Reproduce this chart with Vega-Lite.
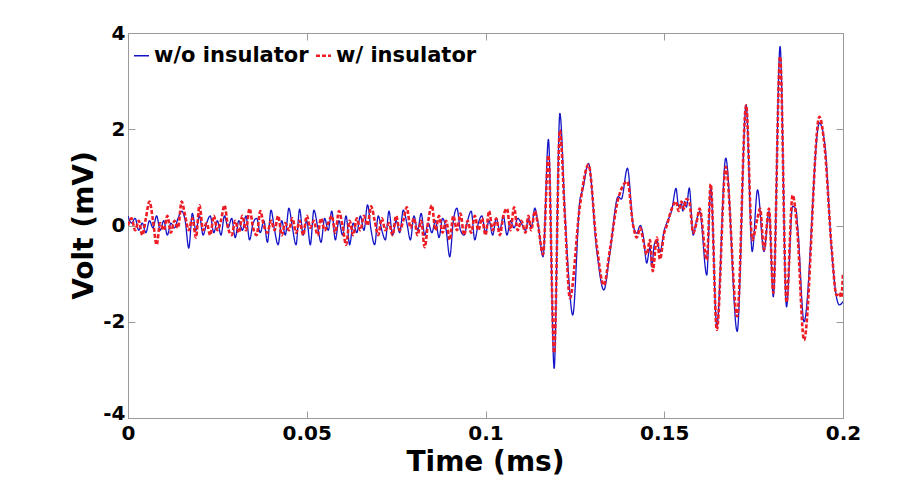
{
  "$schema": "https://vega.github.io/schema/vega-lite/v6.json",
  "autosize": "none",
  "width": 715,
  "height": 385,
  "padding": {"left": 128, "top": 33, "right": 71, "bottom": 67},
  "background": "white",
  "config": {
    "view": {"stroke": "#9a9a9a", "strokeWidth": 1},
    "axis": {
      "grid": false,
      "domainColor": "#9a9a9a",
      "tickColor": "#9a9a9a",
      "labelFont": "DejaVu Sans",
      "labelFontWeight": "bold",
      "labelFontSize": 20,
      "labelColor": "black",
      "titleFont": "DejaVu Sans",
      "titleFontWeight": "bold",
      "titleFontSize": 28,
      "titleColor": "black"
    }
  },
  "datasets": {
    "sig": [
      {"t":0.000,"v":0.2,"s":"w/o insulator"},{"t":0.001,"v":0.05,"s":"w/o insulator"},{"t":0.002,"v":0.15,"s":"w/o insulator"},{"t":0.003,"v":-0.1,"s":"w/o insulator"},{"t":0.004,"v":0.05,"s":"w/o insulator"},{"t":0.005,"v":-0.15,"s":"w/o insulator"},{"t":0.006,"v":0.1,"s":"w/o insulator"},{"t":0.007,"v":-0.05,"s":"w/o insulator"},{"t":0.008,"v":0.2,"s":"w/o insulator"},{"t":0.009,"v":-0.1,"s":"w/o insulator"},
      {"t":0.010,"v":0.1,"s":"w/o insulator"},{"t":0.011,"v":-0.2,"s":"w/o insulator"},{"t":0.012,"v":0.05,"s":"w/o insulator"},{"t":0.013,"v":-0.05,"s":"w/o insulator"},{"t":0.014,"v":0.15,"s":"w/o insulator"},{"t":0.015,"v":0.3,"s":"w/o insulator"},{"t":0.016,"v":0.1,"s":"w/o insulator"},{"t":0.017,"v":-0.47,"s":"w/o insulator"},{"t":0.018,"v":0.25,"s":"w/o insulator"},{"t":0.019,"v":-0.1,"s":"w/o insulator"},
      {"t":0.020,"v":0.2,"s":"w/o insulator"},{"t":0.021,"v":-0.2,"s":"w/o insulator"},{"t":0.022,"v":0.05,"s":"w/o insulator"},{"t":0.023,"v":0.2,"s":"w/o insulator"},{"t":0.024,"v":-0.15,"s":"w/o insulator"},{"t":0.025,"v":0.1,"s":"w/o insulator"},{"t":0.026,"v":-0.2,"s":"w/o insulator"},{"t":0.027,"v":0.2,"s":"w/o insulator"},{"t":0.028,"v":-0.05,"s":"w/o insulator"},{"t":0.029,"v":0.15,"s":"w/o insulator"},
      {"t":0.030,"v":-0.25,"s":"w/o insulator"},{"t":0.031,"v":0.1,"s":"w/o insulator"},{"t":0.032,"v":-0.1,"s":"w/o insulator"},{"t":0.033,"v":0.2,"s":"w/o insulator"},{"t":0.034,"v":-0.3,"s":"w/o insulator"},{"t":0.035,"v":0.05,"s":"w/o insulator"},{"t":0.036,"v":0.15,"s":"w/o insulator"},{"t":0.037,"v":-0.15,"s":"w/o insulator"},{"t":0.038,"v":0.1,"s":"w/o insulator"},{"t":0.039,"v":-0.35,"s":"w/o insulator"},
      {"t":0.040,"v":0.32,"s":"w/o insulator"},{"t":0.041,"v":-0.1,"s":"w/o insulator"},{"t":0.042,"v":-0.4,"s":"w/o insulator"},{"t":0.043,"v":0.1,"s":"w/o insulator"},{"t":0.044,"v":-0.2,"s":"w/o insulator"},{"t":0.045,"v":0.36,"s":"w/o insulator"},{"t":0.046,"v":-0.05,"s":"w/o insulator"},{"t":0.047,"v":-0.4,"s":"w/o insulator"},{"t":0.048,"v":0.34,"s":"w/o insulator"},{"t":0.049,"v":-0.2,"s":"w/o insulator"},
      {"t":0.050,"v":0.1,"s":"w/o insulator"},{"t":0.051,"v":-0.4,"s":"w/o insulator"},{"t":0.052,"v":0.32,"s":"w/o insulator"},{"t":0.053,"v":0.0,"s":"w/o insulator"},{"t":0.054,"v":-0.35,"s":"w/o insulator"},{"t":0.055,"v":0.15,"s":"w/o insulator"},{"t":0.056,"v":-0.1,"s":"w/o insulator"},{"t":0.057,"v":0.3,"s":"w/o insulator"},{"t":0.058,"v":-0.3,"s":"w/o insulator"},{"t":0.059,"v":0.1,"s":"w/o insulator"},
      {"t":0.060,"v":-0.2,"s":"w/o insulator"},{"t":0.061,"v":0.2,"s":"w/o insulator"},{"t":0.062,"v":-0.4,"s":"w/o insulator"},{"t":0.063,"v":0.05,"s":"w/o insulator"},{"t":0.064,"v":-0.15,"s":"w/o insulator"},{"t":0.065,"v":0.2,"s":"w/o insulator"},{"t":0.066,"v":-0.1,"s":"w/o insulator"},{"t":0.067,"v":0.43,"s":"w/o insulator"},{"t":0.068,"v":-0.1,"s":"w/o insulator"},{"t":0.069,"v":-0.4,"s":"w/o insulator"},
      {"t":0.070,"v":0.2,"s":"w/o insulator"},{"t":0.071,"v":-0.1,"s":"w/o insulator"},{"t":0.072,"v":-0.3,"s":"w/o insulator"},{"t":0.073,"v":0.3,"s":"w/o insulator"},{"t":0.074,"v":-0.2,"s":"w/o insulator"},{"t":0.075,"v":0.1,"s":"w/o insulator"},{"t":0.076,"v":-0.15,"s":"w/o insulator"},{"t":0.077,"v":0.32,"s":"w/o insulator"},{"t":0.078,"v":0.05,"s":"w/o insulator"},{"t":0.079,"v":-0.3,"s":"w/o insulator"},
      {"t":0.080,"v":0.2,"s":"w/o insulator"},{"t":0.081,"v":-0.1,"s":"w/o insulator"},{"t":0.082,"v":0.25,"s":"w/o insulator"},{"t":0.083,"v":-0.2,"s":"w/o insulator"},{"t":0.084,"v":0.05,"s":"w/o insulator"},{"t":0.085,"v":-0.15,"s":"w/o insulator"},{"t":0.086,"v":0.1,"s":"w/o insulator"},{"t":0.087,"v":-0.25,"s":"w/o insulator"},{"t":0.088,"v":0.15,"s":"w/o insulator"},{"t":0.089,"v":-0.1,"s":"w/o insulator"},
      {"t":0.090,"v":-0.65,"s":"w/o insulator"},{"t":0.091,"v":0.1,"s":"w/o insulator"},{"t":0.092,"v":0.36,"s":"w/o insulator"},{"t":0.093,"v":-0.1,"s":"w/o insulator"},{"t":0.094,"v":-0.2,"s":"w/o insulator"},{"t":0.095,"v":0.1,"s":"w/o insulator"},{"t":0.096,"v":0.3,"s":"w/o insulator"},{"t":0.097,"v":-0.3,"s":"w/o insulator"},{"t":0.098,"v":0.05,"s":"w/o insulator"},{"t":0.099,"v":0.2,"s":"w/o insulator"},
      {"t":0.100,"v":-0.15,"s":"w/o insulator"},{"t":0.101,"v":0.1,"s":"w/o insulator"},{"t":0.102,"v":-0.2,"s":"w/o insulator"},{"t":0.103,"v":0.15,"s":"w/o insulator"},{"t":0.104,"v":-0.1,"s":"w/o insulator"},{"t":0.105,"v":0.2,"s":"w/o insulator"},{"t":0.106,"v":-0.2,"s":"w/o insulator"},{"t":0.107,"v":0.1,"s":"w/o insulator"},{"t":0.108,"v":-0.05,"s":"w/o insulator"},{"t":0.109,"v":0.15,"s":"w/o insulator"},
      {"t":0.1100,"v":0.05,"s":"w/o insulator"},{"t":0.1112,"v":-0.1,"s":"w/o insulator"},{"t":0.1120,"v":0.15,"s":"w/o insulator"},{"t":0.1128,"v":-0.05,"s":"w/o insulator"},{"t":0.1138,"v":0.36,"s":"w/o insulator"},{"t":0.1146,"v":0.1,"s":"w/o insulator"},{"t":0.1161,"v":-0.65,"s":"w/o insulator"},{"t":0.1176,"v":1.79,"s":"w/o insulator"},{"t":0.1192,"v":-2.97,"s":"w/o insulator"},{"t":0.1208,"v":2.33,"s":"w/o insulator"},
      {"t":0.1222,"v":0.3,"s":"w/o insulator"},{"t":0.1232,"v":-0.99,"s":"w/o insulator"},{"t":0.1244,"v":-1.86,"s":"w/o insulator"},{"t":0.1264,"v":0.53,"s":"w/o insulator"},{"t":0.1272,"v":0.75,"s":"w/o insulator"},{"t":0.1288,"v":1.29,"s":"w/o insulator"},{"t":0.1311,"v":-0.51,"s":"w/o insulator"},{"t":0.1331,"v":-1.34,"s":"w/o insulator"},{"t":0.1348,"v":-0.57,"s":"w/o insulator"},{"t":0.1371,"v":0.6,"s":"w/o insulator"},
      {"t":0.1380,"v":0.55,"s":"w/o insulator"},{"t":0.1397,"v":1.19,"s":"w/o insulator"},{"t":0.1413,"v":0.01,"s":"w/o insulator"},{"t":0.1423,"v":-0.16,"s":"w/o insulator"},{"t":0.1433,"v":0.0,"s":"w/o insulator"},{"t":0.1441,"v":-0.2,"s":"w/o insulator"},{"t":0.1451,"v":-0.78,"s":"w/o insulator"},{"t":0.1460,"v":-0.45,"s":"w/o insulator"},{"t":0.1465,"v":-0.86,"s":"w/o insulator"},{"t":0.1472,"v":-0.4,"s":"w/o insulator"},
      {"t":0.1479,"v":-0.3,"s":"w/o insulator"},{"t":0.1488,"v":-0.55,"s":"w/o insulator"},{"t":0.1500,"v":-0.1,"s":"w/o insulator"},{"t":0.1507,"v":0.05,"s":"w/o insulator"},{"t":0.1521,"v":0.32,"s":"w/o insulator"},{"t":0.1533,"v":0.77,"s":"w/o insulator"},{"t":0.1540,"v":0.4,"s":"w/o insulator"},{"t":0.1548,"v":0.45,"s":"w/o insulator"},{"t":0.1552,"v":0.3,"s":"w/o insulator"},{"t":0.1557,"v":0.5,"s":"w/o insulator"},
      {"t":0.1562,"v":0.38,"s":"w/o insulator"},{"t":0.1570,"v":0.78,"s":"w/o insulator"},{"t":0.1581,"v":-0.2,"s":"w/o insulator"},{"t":0.1590,"v":0.1,"s":"w/o insulator"},{"t":0.1599,"v":0.29,"s":"w/o insulator"},{"t":0.1619,"v":-1.03,"s":"w/o insulator"},{"t":0.1630,"v":0.8,"s":"w/o insulator"},{"t":0.1647,"v":-2.1,"s":"w/o insulator"},{"t":0.1672,"v":1.4,"s":"w/o insulator"},{"t":0.1704,"v":-2.2,"s":"w/o insulator"},
      {"t":0.1729,"v":2.5,"s":"w/o insulator"},{"t":0.1746,"v":-0.54,"s":"w/o insulator"},{"t":0.1761,"v":0.74,"s":"w/o insulator"},{"t":0.1779,"v":-0.54,"s":"w/o insulator"},{"t":0.1793,"v":0.29,"s":"w/o insulator"},{"t":0.1805,"v":-1.48,"s":"w/o insulator"},{"t":0.1824,"v":3.72,"s":"w/o insulator"},{"t":0.1842,"v":-1.69,"s":"w/o insulator"},{"t":0.1859,"v":0.4,"s":"w/o insulator"},{"t":0.1868,"v":0.35,"s":"w/o insulator"},
      {"t":0.1874,"v":-0.1,"s":"w/o insulator"},{"t":0.1891,"v":-2.0,"s":"w/o insulator"},{"t":0.1934,"v":2.13,"s":"w/o insulator"},{"t":0.1949,"v":1.7,"s":"w/o insulator"},{"t":0.1968,"v":-0.5,"s":"w/o insulator"},{"t":0.1982,"v":-1.5,"s":"w/o insulator"},{"t":0.1990,"v":-1.65,"s":"w/o insulator"},{"t":0.2000,"v":-1.58,"s":"w/o insulator"},

      {"t":0.000,"v":0.0,"s":"w/ insulator"},{"t":0.001,"v":0.15,"s":"w/ insulator"},{"t":0.002,"v":-0.1,"s":"w/ insulator"},{"t":0.003,"v":0.1,"s":"w/ insulator"},{"t":0.004,"v":-0.2,"s":"w/ insulator"},{"t":0.005,"v":0.15,"s":"w/ insulator"},{"t":0.006,"v":0.5,"s":"w/ insulator"},{"t":0.007,"v":0.1,"s":"w/ insulator"},{"t":0.008,"v":-0.4,"s":"w/ insulator"},{"t":0.009,"v":0.05,"s":"w/ insulator"},
      {"t":0.010,"v":-0.1,"s":"w/ insulator"},{"t":0.011,"v":0.2,"s":"w/ insulator"},{"t":0.012,"v":-0.15,"s":"w/ insulator"},{"t":0.013,"v":0.1,"s":"w/ insulator"},{"t":0.014,"v":-0.05,"s":"w/ insulator"},{"t":0.015,"v":0.5,"s":"w/ insulator"},{"t":0.016,"v":0.2,"s":"w/ insulator"},{"t":0.017,"v":-0.1,"s":"w/ insulator"},{"t":0.018,"v":0.15,"s":"w/ insulator"},{"t":0.019,"v":-0.25,"s":"w/ insulator"},
      {"t":0.020,"v":0.42,"s":"w/ insulator"},{"t":0.021,"v":-0.1,"s":"w/ insulator"},{"t":0.022,"v":0.05,"s":"w/ insulator"},{"t":0.023,"v":-0.2,"s":"w/ insulator"},{"t":0.024,"v":0.2,"s":"w/ insulator"},{"t":0.025,"v":-0.1,"s":"w/ insulator"},{"t":0.026,"v":0.1,"s":"w/ insulator"},{"t":0.027,"v":0.42,"s":"w/ insulator"},{"t":0.028,"v":-0.05,"s":"w/ insulator"},{"t":0.029,"v":-0.2,"s":"w/ insulator"},
      {"t":0.030,"v":0.1,"s":"w/ insulator"},{"t":0.031,"v":-0.15,"s":"w/ insulator"},{"t":0.032,"v":0.2,"s":"w/ insulator"},{"t":0.033,"v":-0.1,"s":"w/ insulator"},{"t":0.034,"v":0.35,"s":"w/ insulator"},{"t":0.035,"v":-0.05,"s":"w/ insulator"},{"t":0.036,"v":-0.2,"s":"w/ insulator"},{"t":0.037,"v":0.3,"s":"w/ insulator"},{"t":0.038,"v":0.0,"s":"w/ insulator"},{"t":0.039,"v":-0.15,"s":"w/ insulator"},
      {"t":0.040,"v":0.1,"s":"w/ insulator"},{"t":0.041,"v":-0.1,"s":"w/ insulator"},{"t":0.042,"v":0.2,"s":"w/ insulator"},{"t":0.043,"v":-0.2,"s":"w/ insulator"},{"t":0.044,"v":0.05,"s":"w/ insulator"},{"t":0.045,"v":-0.1,"s":"w/ insulator"},{"t":0.046,"v":0.15,"s":"w/ insulator"},{"t":0.047,"v":-0.15,"s":"w/ insulator"},{"t":0.048,"v":0.1,"s":"w/ insulator"},{"t":0.049,"v":-0.2,"s":"w/ insulator"},
      {"t":0.050,"v":0.2,"s":"w/ insulator"},{"t":0.051,"v":-0.05,"s":"w/ insulator"},{"t":0.052,"v":0.1,"s":"w/ insulator"},{"t":0.053,"v":-0.2,"s":"w/ insulator"},{"t":0.054,"v":0.15,"s":"w/ insulator"},{"t":0.055,"v":-0.1,"s":"w/ insulator"},{"t":0.056,"v":0.05,"s":"w/ insulator"},{"t":0.057,"v":0.2,"s":"w/ insulator"},{"t":0.058,"v":-0.15,"s":"w/ insulator"},{"t":0.059,"v":0.3,"s":"w/ insulator"},
      {"t":0.060,"v":0.0,"s":"w/ insulator"},{"t":0.061,"v":-0.4,"s":"w/ insulator"},{"t":0.062,"v":0.1,"s":"w/ insulator"},{"t":0.063,"v":-0.2,"s":"w/ insulator"},{"t":0.064,"v":0.15,"s":"w/ insulator"},{"t":0.065,"v":-0.1,"s":"w/ insulator"},{"t":0.066,"v":0.2,"s":"w/ insulator"},{"t":0.067,"v":0.0,"s":"w/ insulator"},{"t":0.068,"v":0.4,"s":"w/ insulator"},{"t":0.069,"v":0.1,"s":"w/ insulator"},
      {"t":0.070,"v":-0.2,"s":"w/ insulator"},{"t":0.071,"v":0.15,"s":"w/ insulator"},{"t":0.072,"v":-0.1,"s":"w/ insulator"},{"t":0.073,"v":0.05,"s":"w/ insulator"},{"t":0.074,"v":-0.2,"s":"w/ insulator"},{"t":0.075,"v":0.2,"s":"w/ insulator"},{"t":0.076,"v":-0.1,"s":"w/ insulator"},{"t":0.077,"v":0.1,"s":"w/ insulator"},{"t":0.078,"v":0.38,"s":"w/ insulator"},{"t":0.079,"v":-0.05,"s":"w/ insulator"},
      {"t":0.080,"v":0.15,"s":"w/ insulator"},{"t":0.081,"v":-0.2,"s":"w/ insulator"},{"t":0.082,"v":0.1,"s":"w/ insulator"},{"t":0.083,"v":-0.45,"s":"w/ insulator"},{"t":0.084,"v":0.1,"s":"w/ insulator"},{"t":0.085,"v":0.42,"s":"w/ insulator"},{"t":0.086,"v":-0.1,"s":"w/ insulator"},{"t":0.087,"v":0.2,"s":"w/ insulator"},{"t":0.088,"v":-0.15,"s":"w/ insulator"},{"t":0.089,"v":0.1,"s":"w/ insulator"},
      {"t":0.090,"v":-0.3,"s":"w/ insulator"},{"t":0.091,"v":0.2,"s":"w/ insulator"},{"t":0.092,"v":-0.1,"s":"w/ insulator"},{"t":0.093,"v":0.25,"s":"w/ insulator"},{"t":0.094,"v":-0.2,"s":"w/ insulator"},{"t":0.095,"v":0.1,"s":"w/ insulator"},{"t":0.096,"v":-0.15,"s":"w/ insulator"},{"t":0.097,"v":0.2,"s":"w/ insulator"},{"t":0.098,"v":-0.1,"s":"w/ insulator"},{"t":0.099,"v":0.15,"s":"w/ insulator"},
      {"t":0.100,"v":-0.2,"s":"w/ insulator"},{"t":0.101,"v":0.3,"s":"w/ insulator"},{"t":0.102,"v":-0.1,"s":"w/ insulator"},{"t":0.103,"v":0.15,"s":"w/ insulator"},{"t":0.104,"v":-0.2,"s":"w/ insulator"},{"t":0.105,"v":0.2,"s":"w/ insulator"},{"t":0.106,"v":0.35,"s":"w/ insulator"},{"t":0.107,"v":-0.1,"s":"w/ insulator"},{"t":0.108,"v":0.38,"s":"w/ insulator"},{"t":0.109,"v":-0.1,"s":"w/ insulator"},
      {"t":0.1100,"v":0.1,"s":"w/ insulator"},{"t":0.1112,"v":-0.15,"s":"w/ insulator"},{"t":0.1120,"v":0.2,"s":"w/ insulator"},{"t":0.1128,"v":-0.1,"s":"w/ insulator"},{"t":0.1138,"v":0.3,"s":"w/ insulator"},{"t":0.1146,"v":0.05,"s":"w/ insulator"},{"t":0.1161,"v":-0.6,"s":"w/ insulator"},{"t":0.1176,"v":1.46,"s":"w/ insulator"},{"t":0.1192,"v":-2.65,"s":"w/ insulator"},{"t":0.1208,"v":1.98,"s":"w/ insulator"},
      {"t":0.1222,"v":0.2,"s":"w/ insulator"},{"t":0.1236,"v":-1.51,"s":"w/ insulator"},{"t":0.1264,"v":0.4,"s":"w/ insulator"},{"t":0.1288,"v":1.26,"s":"w/ insulator"},{"t":0.1311,"v":-0.4,"s":"w/ insulator"},{"t":0.1331,"v":-1.24,"s":"w/ insulator"},{"t":0.1348,"v":-0.5,"s":"w/ insulator"},{"t":0.1371,"v":0.55,"s":"w/ insulator"},{"t":0.1397,"v":0.91,"s":"w/ insulator"},{"t":0.1413,"v":0.0,"s":"w/ insulator"},
      {"t":0.1423,"v":-0.25,"s":"w/ insulator"},{"t":0.1433,"v":-0.05,"s":"w/ insulator"},{"t":0.1441,"v":-0.3,"s":"w/ insulator"},{"t":0.1451,"v":-0.6,"s":"w/ insulator"},{"t":0.1460,"v":-0.3,"s":"w/ insulator"},{"t":0.1468,"v":-0.95,"s":"w/ insulator"},{"t":0.1479,"v":-0.25,"s":"w/ insulator"},{"t":0.1488,"v":-0.7,"s":"w/ insulator"},{"t":0.1500,"v":-0.15,"s":"w/ insulator"},{"t":0.1507,"v":0.0,"s":"w/ insulator"},
      {"t":0.1521,"v":0.35,"s":"w/ insulator"},{"t":0.1533,"v":0.5,"s":"w/ insulator"},{"t":0.1540,"v":0.3,"s":"w/ insulator"},{"t":0.1548,"v":0.5,"s":"w/ insulator"},{"t":0.1555,"v":0.35,"s":"w/ insulator"},{"t":0.1562,"v":0.55,"s":"w/ insulator"},{"t":0.1570,"v":0.5,"s":"w/ insulator"},{"t":0.1581,"v":-0.15,"s":"w/ insulator"},{"t":0.1590,"v":0.05,"s":"w/ insulator"},{"t":0.1599,"v":0.35,"s":"w/ insulator"},
      {"t":0.1619,"v":-0.72,"s":"w/ insulator"},{"t":0.1630,"v":0.86,"s":"w/ insulator"},{"t":0.1647,"v":-2.17,"s":"w/ insulator"},{"t":0.1672,"v":1.22,"s":"w/ insulator"},{"t":0.1704,"v":-1.89,"s":"w/ insulator"},{"t":0.1729,"v":2.5,"s":"w/ insulator"},{"t":0.1746,"v":-0.3,"s":"w/ insulator"},{"t":0.1761,"v":0.16,"s":"w/ insulator"},{"t":0.1768,"v":0.35,"s":"w/ insulator"},{"t":0.1779,"v":-0.5,"s":"w/ insulator"},
      {"t":0.1793,"v":0.35,"s":"w/ insulator"},{"t":0.1805,"v":-1.4,"s":"w/ insulator"},{"t":0.1824,"v":3.51,"s":"w/ insulator"},{"t":0.1842,"v":-1.6,"s":"w/ insulator"},{"t":0.1859,"v":0.63,"s":"w/ insulator"},{"t":0.1872,"v":-0.09,"s":"w/ insulator"},{"t":0.1891,"v":-2.38,"s":"w/ insulator"},{"t":0.1934,"v":2.26,"s":"w/ insulator"},{"t":0.1949,"v":1.6,"s":"w/ insulator"},{"t":0.1968,"v":-0.45,"s":"w/ insulator"},
      {"t":0.1982,"v":-1.45,"s":"w/ insulator"},{"t":0.1990,"v":-1.4,"s":"w/ insulator"},{"t":0.1995,"v":-1.5,"s":"w/ insulator"},{"t":0.2000,"v":-0.99,"s":"w/ insulator"}
    ]
  },
  "data": {"name": "sig"},
  "layer": [
    {
      "mark": {"type": "line", "interpolate": "monotone", "clip": true},
      "encoding": {
        "x": {
          "field": "t", "type": "quantitative",
          "scale": {"domain": [0, 0.2], "nice": false, "zero": false},
          "axis": {
            "values": [0, 0.05, 0.1, 0.15, 0.2],
            "labelExpr": "'' + datum.value",
            "labelFlush": false,
            "tickSize": -7,
            "labelPadding": 12,
            "title": "Time (ms)",
            "titleX": 357,
            "titleY": 52,
            "titleBaseline": "alphabetic",
            "titleAnchor": null
          }
        },
        "y": {
          "field": "v", "type": "quantitative",
          "scale": {"domain": [-4, 4], "nice": false},
          "axis": {
            "values": [-4, -2, 0, 2, 4],
            "labelExpr": "'' + datum.value",
            "labelFlush": false,
            "labelOffset": {"condition": {"test": "datum.value == -4", "value": -5}, "value": 0},
            "tickSize": -7,
            "labelPadding": 10,
            "title": "Volt (mV)",
            "titleX": -36,
            "titleY": 192,
            "titleAngle": 270,
            "titleBaseline": "alphabetic",
            "titleAnchor": null
          }
        },
        "color": {
          "field": "s", "type": "nominal",
          "scale": {"domain": ["w/o insulator", "w/ insulator"], "range": ["#1414c8", "#ee1c24"]},
          "legend": {
            "title": null,
            "orient": "none",
            "legendX": 3,
            "legendY": 12,
            "direction": "horizontal",
            "symbolType": "stroke",
            "symbolSize": 225,
            "symbolStrokeWidth": 1.5,
            "labelFont": "DejaVu Sans",
            "labelFontWeight": "bold",
            "labelFontSize": 21,
            "labelColor": "black",
            "labelOffset": 2,
            "labelLimit": 400,
            "columnPadding": 1
          }
        },
        "strokeDash": {
          "field": "s", "type": "nominal",
          "scale": {"domain": ["w/o insulator", "w/ insulator"], "range": [[1, 0], [4, 2]]},
          "legend": null
        },
        "strokeWidth": {
          "field": "s", "type": "nominal",
          "scale": {"domain": ["w/o insulator", "w/ insulator"], "range": [1.3, 2.6]},
          "legend": null
        }
      }
    },
    {
      "mark": {"type": "point", "opacity": 0},
      "encoding": {
        "x": {
          "field": "t", "type": "quantitative",
          "axis": {"orient": "top", "values": [0, 0.05, 0.1, 0.15, 0.2], "labels": false, "title": null, "tickSize": -7}
        },
        "y": {
          "field": "v", "type": "quantitative",
          "axis": {"orient": "right", "values": [-4, -2, 0, 2, 4], "labels": false, "title": null, "tickSize": -7}
        }
      }
    }
  ],
  "resolve": {"axis": {"x": "independent", "y": "independent"}}
}
